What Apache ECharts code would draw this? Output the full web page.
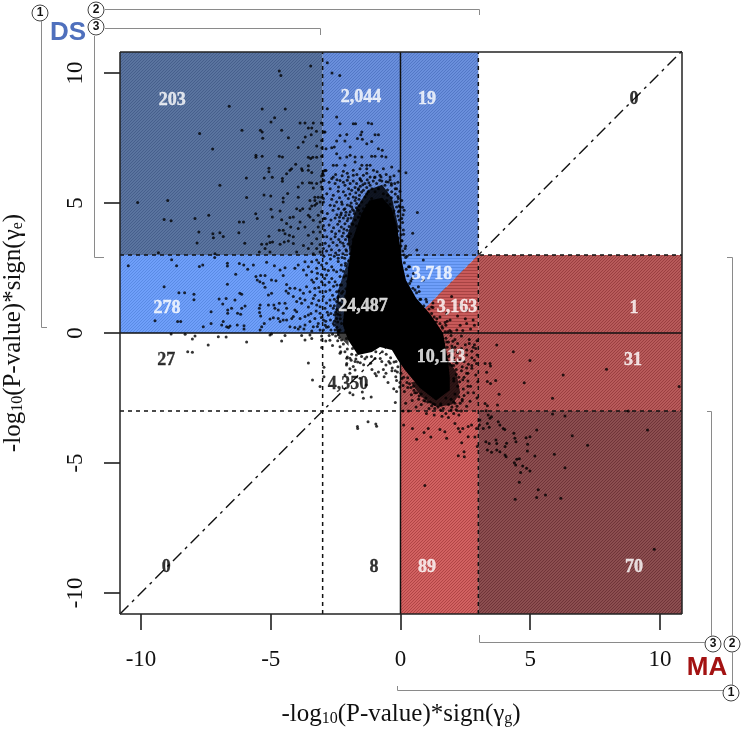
<!DOCTYPE html>
<html><head><meta charset="utf-8">
<style>html,body{margin:0;padding:0;background:#fff}#c{width:742px;height:729px}</style>
<script src="https://cdn.jsdelivr.net/npm/echarts@6/dist/echarts.min.js"></script>
</head><body><div id="c"></div>
<script>
const xMin=-10.81,xMax=10.85,yMin=-10.81,yMax=10.81;
const tickValues=[-10,-5,0,5,10];
const xTitle='{a|-log}{s|10}{a|(P-value)*sign(γ}{s|g}{a|)}';
const yTitle='{a|-log}{s|10}{a|(P-value)*sign(γ}{s|e}{a|)}';
// quadrant counts: [x,y,text,tone]
const countLabels=[[-8.8,8.96,'203','w'],[-1.52,9.08,'2,044','w'],[1.02,9.0,'19','w'],[9.0,9.0,'0','k'],
[-9.0,0.96,'278','w'],[-1.44,1.04,'24,487','w'],[1.21,2.27,'3,718','w'],[2.18,1.0,'3,163','w'],[9.0,0.96,'1','w'],
[-9.03,-1.04,'27','k'],[-2.02,-1.96,'4,350','k'],[1.56,-0.92,'10,113','w'],[8.96,-1.04,'31','w'],
[-9.03,-9.0,'0','k'],[-1.02,-9.0,'8','k'],[1.02,-9.0,'89','w'],[9.0,-9.0,'70','w']];
// shaded zones, corners in data units
const zoneCorners=[
[[xMin,3],[-3,3],[-3,yMax],[xMin,yMax]],
[[-3,3],[3,3],[3,yMax],[-3,yMax]],
[[xMin,0],[0,0],[0,3],[xMin,3]],
[[0,0],[3,3],[0,3]],
[[0,0],[3,0],[3,3]],
[[3,0],[xMax,0],[xMax,3],[3,3]],
[[0,-3],[xMax,-3],[xMax,0],[0,0]],
[[0,yMin],[3,yMin],[3,-3],[0,-3]],
[[3,yMin],[xMax,yMin],[xMax,-3],[3,-3]]];
const zoneTones=['blueDark','blueMid','blueLight','blueWedge','redWedge','redMid','redMid','redBright','redDark'];
// dense solid core outline and hazy fringes of the cloud
const coreOutline=[[-1.5,4.6],[-1.2,5.1],[-0.7,5.2],[-0.35,4.8],[-0.15,4.15],[-0.02,3.38],[0.06,2.73],[0.21,2.04],[0.6,1.35],[1.14,0.73],[1.64,0],[1.83,-1.04],[1.9,-1.7],[1.9,-2.2],[1.37,-2.6],[0.75,-2.12],[0.17,-1.42],[-0.1,-1.04],[-0.33,-0.65],[-0.79,-0.54],[-1.1,-0.73],[-1.64,-0.85],[-2.02,-0.27],[-2.22,0.31],[-2.14,1.27],[-2.02,2.42],[-1.85,3.58]];
const hazeUpper=[[-1.25,5.5],[-0.71,5.7],[-0.33,5.2],[-0.1,4.15],[-0.1,3.19],[-1.95,3.0],[-2.05,3.77],[-1.7,4.8]];
const hazeLower=[[1.83,-1.0],[2.15,-1.5],[2.3,-2.3],[2.0,-2.75],[1.4,-2.85],[0.8,-2.45],[0.4,-1.9],[1.0,-1.8]];
const hazeLeft=[[-1.95,3.0],[-2.4,1.65],[-2.55,0.5],[-2.45,-0.05],[-2.0,-0.5],[-2.0,1.5]];
// scatter points, read by eye, flat x,y pairs
const ptsUpperLeft=[-3.46,10.27,-4.67,10.08,-4.61,9.91,-6.6,8.72,-5.33,8.62,-4.44,8.62,-4.85,8.28,-4.99,8.12,-3.87,8.08,-3.68,8.08,-3.36,8.08,-3.05,8.08,-6.11,7.8,-7.74,7.67,-5.4,7.8,-5.33,7.73,-4.58,7.8,-3.55,7.89,-3.42,7.89,-3.24,7.76,-2.95,7.73,-3.44,7.63,-3.67,7.54,-4.32,7.51,-5.31,7.49,-3.75,7.35,-3.04,7.41,-3.94,7.14,-3.23,7.19,-7.24,7.08,-3.03,7.12,-5.57,6.84,-5.57,6.76,-5.33,6.8,-4.67,6.8,-4.55,6.77,-3.55,6.76,-3.46,6.71,-3.38,6.76,-3.23,6.76,-3.04,6.8,-4.04,6.49,-4.2,6.32,-4.26,6.26,-3.81,6.32,-3.78,6.25,-3.55,6.43,-3.55,6.26,-3.42,6.17,-5.07,6.34,-5.07,6.2,-4.39,6.13,-2.97,6.22,-2.87,6.25,-3.04,6.04,-3.0,6.13,-5.25,5.96,-4.94,5.99,-5.94,5.96,-4.55,5.94,-4.55,5.84,-6.96,5.68,-3.78,5.77,-3.94,5.62,-3.51,5.78,-3.42,5.77,-3.36,5.58,-3.23,5.75,-3.06,5.81,-3.04,5.62,-2.95,5.87,-3.01,5.53,-5.26,5.31,-5.0,5.27,-4.35,5.37,-5.93,5.21,-4.52,5.19,-4.52,5.04,-3.94,5.22,-8.97,5.1,-10.13,5.02,-3.3,5.22,-3.17,5.22,-3.04,5.22,-3.49,5.1,-3.3,5.1,-3.1,5.04,-2.97,5.17,-9.11,4.37,-8.84,4.32,-7.92,4.4,-7.39,4.53,-5.58,4.59,-5.52,4.4,-4.99,4.76,-4.94,4.46,-4.64,4.69,-6.21,4.27,-6.05,4.27,-7.77,3.89,-7.23,3.82,-7.21,3.66,-6.96,3.86,-6.83,3.71,-6.23,3.86,-7.84,3.46,-6.0,3.45,-5.35,3.41,-5.16,3.42,-5.03,3.48,-4.93,3.5,-5.07,3.72,-5.44,3.12,-5.22,3.25,-4.64,3.41,-4.48,3.5,-4.32,3.54,-4.13,3.44,-4.13,3.7,-4.67,3.95,-4.52,3.95,-4.45,3.82,-4.28,3.76,-4.13,4.46,-4.26,4.44,-4.58,4.36,-3.87,4.27,-4.39,4.21,-4.23,4.08,-3.94,4.02,-3.68,4.08,-4.0,4.78,-3.87,4.71,-3.77,4.78,-3.49,4.78,-3.42,4.89,-3.3,4.91,-3.23,4.98,-3.55,4.53,-3.49,4.46,-3.36,4.34,-3.17,4.53,-3.04,4.66,-2.95,4.4,-3.1,4.27,-2.97,4.14,-3.17,4.08,-3.36,3.89,-3.55,3.76,-3.1,3.89,-2.97,3.7,-3.23,3.63,-3.42,3.44,-3.74,3.37,-3.55,3.25,-3.23,3.25,-3.1,3.4,-2.97,3.25,-3.1,3.12,-3.36,3.05,-4.0,3.12,-5.03,3.12,-9.33,3.09,-7.15,3.05];
const ptsMiddleLeft=[-10.49,2.59,-8.82,2.82,-8.63,2.59,-7.75,2.56,-7.62,2.62,-9.11,1.78,-8.54,1.55,-8.32,1.55,-7.96,1.49,-7.96,1.28,-9.46,0.47,-8.59,0.44,-8.47,0.44,-7.6,0.24,-7.3,0.37,-7.3,0.82,-6.99,1.31,-6.72,1.33,-6.38,1.27,-6.85,1.12,-6.51,0.95,-6.66,0.88,-6.66,0.76,-6.67,1.88,-6.67,2.68,-6.67,2.58,-6.35,2.26,-6.21,2.67,-6.04,2.62,-5.89,2.45,-5.67,2.62,-7.16,2.9,-6.19,1.53,-6.12,1.49,-5.99,1.04,-6.12,0.95,-6.28,0.76,-6.16,0.72,-6.83,0.44,-6.89,0.31,-6.7,0.24,-6.57,0.27,-6.63,0.21,-6.29,0.31,-6.03,0.28,-6.03,0.15,-5.57,2.17,-5.52,2.04,-5.42,1.97,-5.39,2.21,-5.22,2.21,-5.29,1.91,-5.22,1.76,-4.97,2.04,-4.8,2.01,-4.52,2.21,-4.64,2.42,-4.45,2.51,-4.86,2.59,-5.16,2.72,-4.39,1.87,-4.41,1.62,-4.32,1.53,-5.41,1.08,-5.44,0.95,-5.43,0.79,-5.39,0.65,-5.09,1.46,-4.97,1.53,-5.09,1.08,-4.88,1.08,-4.84,0.95,-4.67,1.14,-4.71,0.88,-4.45,1.14,-4.39,0.95,-4.52,0.76,-4.9,0.59,-4.71,0.56,-4.52,0.5,-4.39,0.5,-5.25,0.37,-5.35,0.24,-5.41,0.12,-5.03,0.54,-4.64,0.44,-4.19,0.56,-4.07,0.88,-4.0,1.21,-3.87,1.33,-4.13,1.4,-4.26,1.72,-4.07,1.72,-3.87,1.65,-3.74,1.53,-3.68,1.27,-3.81,1.14,-4.0,0.82,-4.13,0.63,-3.87,0.56,-3.68,0.63,-3.55,0.69,-3.42,1.14,-3.23,1.08,-3.1,1.01,-3.36,1.33,-3.49,1.59,-3.3,1.72,-3.1,1.59,-2.97,1.4,-3.62,1.78,-3.42,2.04,-3.23,2.1,-3.04,1.97,-3.62,2.23,-3.42,2.36,-3.23,2.49,-3.74,2.42,-3.94,2.62,-4.07,2.49,-3.68,2.74,-3.42,2.74,-3.23,2.81,-3.04,2.62,-2.85,2.68,-2.65,2.55,-2.85,2.23,-2.65,2.1,-2.91,1.85,-2.72,1.65,-2.72,1.27,-2.91,0.95,-3.1,0.76,-3.3,0.56,-3.49,0.44,-3.68,0.31,-3.87,0.24,-4.07,0.21,-4.26,0.24,-3.36,0.24,-3.17,0.37,-2.97,0.5,-2.78,0.69,-2.59,0.95,-2.78,0.24,-2.97,0.12,-2.59,0.37,-2.46,0.56,-2.46,1.21,-2.46,1.59,-2.52,1.97,-2.46,2.36,-2.33,2.17,-2.27,1.85,-2.27,1.53,-2.2,1.27,-2.23,0.95,-2.33,0.69,-2.27,0.37,-2.33,0.12,-2.52,0.12,-3.1,0.12,-3.42,0.08,-3.72,0.15,-3.94,0.15];
const ptsLowerLeft=[-5.03,-0.08,-4.97,-0.04,-8.84,-0.04,-8.3,-0.05,-8.02,-0.23,-7.92,-0.12,-7.41,-0.46,-7.02,-0.14,-6.72,-0.15,-5.93,-0.35,-4.58,-0.31,-4.45,-0.1,-3.81,-0.1,-3.68,-0.27,-3.49,-0.08,-3.42,-0.21,-3.04,-0.12,-3.04,-0.27,-2.88,-0.31,-3.04,-0.56,-8.2,-0.72,-8.02,-0.74,-3.55,-1.15,-3.39,-1.81,-2.95,-1.32,-2.95,-1.68,-3.1,-2.06,-1.66,-3.6,-2.4,-0.08,-2.27,-0.27,-2.08,-0.21,-2.33,-0.53,-2.14,-0.72,-1.95,-0.97,-1.82,-1.29,-2.08,-1.23,-1.95,-1.55,-1.75,-1.42,-1.56,-1.74,-2.14,-1.62,-2.33,-0.78,-1.85,-0.6,-1.7,-0.85,-2.07,-1.17,-2.07,-0.97,-1.75,-1.1,-1.95,-1.38,-1.37,-0.99,-1.15,-1.16,-1.55,-1.14,-1.1,-1.4,-0.85,-1.5,-0.93,-1.64,-0.98,-1.56,-0.98,-0.98,-0.72,-1.1,-0.56,-1.23,-0.66,-1.4,-0.4,-1.16,-0.56,-1.55,-0.63,-1.68,-0.17,-1.1,-0.33,-1.45,-0.2,-1.45,-0.15,-1.83,-0.48,-1.9,-0.15,-2.25,-0.2,-2.67,-1.95,-2.3,-1.83,-2.38,-1.47,-2.27,-1.13,-2.46,-1.25,-3.41,-0.92,-3.59,-0.26,-2.14,-0.95,-3.5,-1.65,-3.67,-0.03,-2.08,-1.32,-2.0,-1.43,-2.51];
const ptsPlumeFar=[-2.82,10.4,-2.64,10.0,-2.34,9.91,-2.82,8.63,-2.46,8.31,-2.33,8.05,-1.82,8.05,-1.73,8.05,-1.24,8.08,-1.11,8.05,-2.91,7.73,-2.33,7.6,-2.07,7.64,-1.49,7.73,-1.53,7.63,-0.98,7.63,-0.85,7.63,-2.46,7.39,-2.14,7.39,-1.66,7.48,-1.47,7.45,-1.11,7.37,-1.3,7.28,-2.87,7.09,-2.65,7.13,-2.55,7.16,-1.94,7.16,-0.85,7.09,-0.7,7.03,-2.46,6.9,-2.33,6.73,-2.07,6.77,-1.94,6.84,-1.75,6.77,-1.49,6.77,-1.11,6.8,-0.98,6.8,-0.72,6.8,-0.56,6.77,-1.75,6.58,-2.59,6.45,-2.46,6.45,-2.14,6.45,-1.49,6.45,-1.3,6.45,-1.17,6.45,-1.3,6.32,-2.91,6.26,-2.97,6.07,-2.59,6.0,-2.2,6.22,-1.82,6.26,-1.56,6.32,-1.04,6.26,-0.66,6.32,-0.34,6.39,-0.06,6.23,0.21,6.16,0.65,4.64,0.08,4.84,0.47,3.84,0.11,3.96];
const ptsPlumeMid=[-2.65,5.94,-2.52,5.75,-2.33,5.87,-2.01,6.0,-1.82,6.07,-1.56,5.94,-1.43,6.07,-1.17,6.0,-0.98,6.0,-0.79,6.07,-0.4,6.0,-0.47,5.81,-0.6,5.68,-0.15,5.55,-2.71,5.55,-2.39,5.62,-2.14,5.68,-1.94,5.75,-1.69,5.75,-1.37,5.75,-1.17,5.68,-0.92,5.75,-2.84,5.36,-2.59,5.3,-2.2,5.43,-1.88,5.49,-1.62,5.55,-1.43,5.49,-1.24,5.43,-0.98,5.43,-0.66,5.36,-0.34,5.43,-0.08,5.17,-2.46,5.04,-2.27,5.04,-2.01,5.17,-1.82,5.23,-1.58,5.3,-1.37,5.23,-1.11,5.17,-0.85,5.1,-0.53,5.1,-0.21,5.04,-0.02,4.85,0.14,4.72,-2.97,5.04,-2.71,4.91,-2.39,4.78,-2.14,4.78,-1.88,4.85,-1.69,4.98,-1.49,5.04,-1.3,4.91,-1.04,4.85,-0.72,4.78,-0.4,4.78,-0.08,4.66,-1.94,4.66,-1.62,4.72,-1.43,4.78,-1.17,4.66,
-2.82,4.6,-2.6,4.72,-2.45,4.55,-2.28,4.62,-2.12,4.52,-1.98,4.55,-1.78,4.6,-1.55,4.6,-1.28,4.55,-1.05,4.5,-0.88,4.62,-0.62,4.6,-0.45,4.55,-0.28,4.62,-0.1,4.5,-2.9,4.4,-2.68,4.35,-2.52,4.42,-2.35,4.3,-2.2,4.42,-2.05,4.32,-1.9,4.42,-1.74,4.35,-1.62,4.45,-1.42,4.38,-1.18,4.4,-0.96,4.35,-0.76,4.42,-0.55,4.35,-0.3,4.32,-0.05,4.35,-2.75,4.15,-2.58,4.05,-2.42,4.18,-2.28,4.08,-2.14,4.2,-1.98,4.1,-1.84,4.18,-1.7,4.12,-1.58,4.2,-1.22,4.2,-0.9,4.15,-0.65,4.2,-0.48,4.12,-0.25,4.18,-0.05,4.1,0.08,4.25,-2.92,3.95,-2.65,3.9,-2.5,3.82,-2.36,3.92,-2.2,3.85,-2.06,3.95,-1.92,3.82,-0.42,3.95,-0.3,3.88,-0.1,3.92,0.02,3.78,-2.84,3.7,-2.68,3.62,-2.52,3.7,-2.38,3.6,-2.25,3.72,-2.12,3.6,-1.98,3.7,-1.82,3.6,-1.68,3.55,-0.08,3.65,0.04,3.55,-2.9,3.45,-2.75,3.35,-2.6,3.48,-2.45,3.38,-2.32,3.5,-2.18,3.35,-2.02,3.42,-1.88,3.32,-1.74,3.42,-1.62,3.3,0.02,3.35,0.09,3.15,-2.85,3.15,-2.66,3.2,-2.5,3.08,-2.36,3.18,-2.22,3.05,-2.08,3.15,-1.94,3.05,-1.82,3.15,-1.7,3.05,-1.58,3.0,-2.15,2.88,-2.0,2.78,-1.88,2.88,-1.78,2.72,-2.4,2.75,-2.28,2.62,-2.12,2.6,-1.98,2.5,-1.85,2.42,-2.2,2.38,-2.1,2.2,-1.95,2.22,-1.85,2.05,-2.05,1.98,-1.95,1.8,-2.1,1.7,-1.95,1.55,-2.12,1.42,-2.0,1.25,-2.1,1.05,-1.95,0.95,-2.08,0.75,-1.98,0.55,-2.15,0.5,-2.0,0.2,-2.12,0.05,-1.98,-0.1];
const ptsFringe=[-2.95,2.95,-2.7,2.85,-2.55,2.95,-2.4,2.88,-2.92,2.45,-2.78,2.4,-2.58,2.42,-2.92,2.1,-2.75,1.95,-2.58,1.8,-2.45,1.85,-2.38,1.62,-2.88,1.6,-2.62,1.45,-2.55,1.3,-2.4,1.4,-2.35,1.15,-2.85,1.15,-2.7,1.05,-2.55,1.05,-2.45,0.9,-2.35,0.85,-2.82,0.8,-2.68,0.75,-2.55,0.7,-2.42,0.72,-2.88,0.45,-2.7,0.5,-2.55,0.45,-2.42,0.42,-2.85,0.22,-2.68,0.12,-2.45,0.22,-2.38,0.05,-2.62,-0.05,-2.5,-0.12,-2.35,-0.18,-2.75,-0.1,-2.9,0.3,-3.2,2.3,-3.35,1.95,-3.15,1.75,-3.3,1.45,-3.15,1.25,-3.25,0.85,-3.45,0.75,-3.05,0.6,-3.2,0.25,-3.55,1.0,-3.05,2.25,-3.15,2.7,-3.55,2.55,
-2.5,6.1,-2.25,6.05,-2.05,6.15,-1.68,6.1,-1.3,6.15,-0.9,6.2,-0.55,6.1,-0.25,6.05,-2.75,5.8,-2.45,5.9,-2.2,5.8,-2.05,5.88,-1.82,5.85,-1.5,5.85,-1.28,5.9,-1.05,5.85,-0.72,5.85,-0.35,5.75,-0.1,5.8,-2.4,5.45,-2.0,5.55,-1.75,5.6,-1.55,5.65,-1.3,5.6,-1.1,5.55,-0.85,5.55,-0.5,5.5,-0.2,5.35,-2.65,5.15,-2.35,5.2,-2.12,5.3,-1.95,5.35,-1.72,5.4,-1.5,5.42,-1.3,5.35,-0.5,5.3,-0.35,5.2,-0.12,5.05,-2.55,4.9,-2.25,4.95,-2.05,4.92,-1.9,5.0,-1.75,5.1,-1.6,5.15,-0.4,4.95,-0.15,4.85,-0.25,4.7,-2.35,4.45,-2.1,4.65,-1.85,4.75,-1.7,4.82,-1.6,4.9,-0.05,4.7,
0.55,-0.25,0.8,-2.75,1.05,-2.65,1.2,-2.8,1.45,-2.85,1.65,-2.9,1.85,-2.75,2.05,-2.65,2.3,-2.7,2.45,-2.4,2.6,-2.05,2.45,-1.7,2.6,-1.85,2.35,-1.45,2.15,-1.4,2.05,-1.25,2.3,-1.05,2.05,-0.95,1.95,-0.7,2.4,-0.75,2.1,-0.55,2.35,-0.6,2.55,-0.65,2.65,-0.4,2.85,-0.45,2.1,-0.25,1.75,-0.2,1.95,0.05,2.4,0.1,2.7,0.15,2.85,0.3,1.8,0.45,1.4,0.55,0.95,0.85,1.6,0.25,1.2,1.0,2.2,0.65,2.5,0.55,2.6,-1.55,2.75,-1.25,2.85,-1.05,2.55,-1.35,2.95,-0.85,2.8,-0.55];
// points hugging the edge of the dense core
const ptsCoreEdge=[-1.95,4.9,-1.8,4.7,-2.02,4.4,-1.88,4.2,-2.18,4.0,-2.05,3.72,-2.22,3.45,-2.1,3.2,-2.25,2.9,-2.12,2.68,-2.3,2.42,-2.18,2.15,-2.32,1.85,-2.22,1.6,-2.42,1.35,-2.28,1.1,-2.5,0.8,-2.32,0.55,-2.55,0.3,-2.4,0.1,-2.42,-0.3,-2.2,-0.42,-2.05,-0.62,-1.88,-0.82,-1.72,-1.0,-1.5,-0.9,-1.3,-0.92,-1.12,-0.9,-0.95,-0.72,-0.7,-0.72,-0.55,-0.82,-0.38,-0.95,-0.25,-1.12,-0.1,-1.3,0.02,-1.55,0.12,-1.7,0.28,-1.72,0.35,-1.95,0.5,-2.05,0.62,-2.3,0.8,-2.35,0.98,-2.5,1.15,-2.65,1.32,-2.75,1.55,-2.72,1.75,-2.5,1.95,-2.55,2.1,-2.35,2.2,-2.05,2.05,-1.75,2.15,-1.6,1.98,-1.25,2.05,-1.1,1.92,-0.85,1.98,-0.5,1.78,-0.35,1.72,0.05,1.62,0.18,1.38,0.42,1.3,0.62,1.1,0.92,0.9,1.05,0.78,1.3,0.62,1.55,0.48,1.72,0.4,2.0,0.28,2.2,0.22,2.45,0.15,2.7,0.14,3.0,0.18,3.25,0.06,3.55,0.12,3.8,-0.02,4.05,0.05,4.4,-0.05,4.9,-0.1,5.25,-0.2,5.55,-0.35,5.68,-0.55,5.82,-0.8,5.88,-1.0,5.98,-1.22,5.78,-1.45,5.7,-1.62,5.5,-1.72,5.2,-2.18,4.75,-2.3,4.55,-1.55,5.9,-0.75,6.0,-0.4,5.9,-0.22,5.75,-0.02,5.45,0.05,5.1,0.1,4.55,0.2,3.35,0.25,2.95,0.35,2.55,0.45,2.1,0.72,1.6,0.98,1.3,1.25,0.98,1.52,0.62,1.72,0.4,1.82,0.05,2.02,-0.32,2.02,-0.7,2.18,-1.15,2.28,-1.88,2.42,-2.15,2.38,-2.62,2.18,-2.82,1.98,-2.85,1.55,-2.78,1.25,-2.72,0.95,-2.62,0.72,-2.42,0.52,-2.2,0.42,-2.38,0.28,-2.1,0.1,-2.02,-0.02,-1.9,-0.18,-1.68,-0.32,-1.35,-0.12,-1.5,-0.45,-1.1,-0.78,-0.98,-1.42,-1.22,-1.65,-1.12,-1.9,-1.05,-2.05,-0.92,-2.3,-0.72,-2.62,-0.48,-2.72,-0.28];
const ptsWedgeRight=[0.56,1.65,0.69,1.78,0.5,2.29,0.31,2.55,0.88,2.04,1.01,1.2,1.2,0.75,1.78,0.75,1.97,1.4,2.3,1.08,1.52,0.37,2.17,0.12,2.55,0.37,1.91,0.5,2.8,0.5,2.55,0.88,0.63,3.19,0.88,2.81,0.2,2.9,0.35,1.9,0.75,1.3,1.25,1.15,1.0,0.3,1.9,0.1,2.3,0.3,1.75,0.3,1.3,0.4];
const ptsLowerRight=[3.71,-0.46,4.35,-0.72,4.99,-1.06,6.27,-1.62,7.94,-1.39,10.74,-2.06,4.77,-1.91,5.86,-2.51,3.8,-2.36,3.74,-2.77,3.26,-1.17,3.45,-1.17,3.47,-1.27,3.32,-1.51,3.35,-1.87,3.47,-1.94,3.67,-1.83,3.26,-2.71,3.35,-2.8,3.3,-2.99,3.38,-3.15,3.45,-3.28,3.35,-3.48,3.51,-3.22,3.06,-3.35,3.04,-3.54,3.19,-3.67,3.42,-3.63,3.77,-3.41,3.83,-3.54,3.96,-3.67,4.02,-3.71,4.37,-3.86,4.41,-4.05,4.45,-4.18,4.09,-4.24,4.03,-4.37,3.83,-4.57,3.68,-4.12,3.71,-4.25,3.71,-4.5,3.51,-4.59,3.35,-4.5,3.29,-4.18,3.42,-4.25,4.03,-4.69,4.07,-4.76,4.84,-4.03,4.99,-3.99,4.9,-4.28,4.89,-4.54,5.25,-3.73,5.18,-4.73,5.93,-4.66,6.34,-5.18,6.62,-3.95,7.21,-4.32,5.86,-3.12,6.34,-3.19,8.78,-3.0,9.52,-3.73,4.39,-4.99,4.48,-4.86,4.58,-4.84,4.44,-5.08,4.71,-5.12,4.86,-5.2,4.99,-5.31,4.63,-5.37,4.58,-5.74,5.31,-6.03,5.59,-6.23,5.25,-6.33,4.42,-6.4,6.18,-6.36,9.78,-8.32,0.94,-5.87,2.23,-4.72,2.45,-4.57,2.46,-4.76,2.36,-4.22,1.78,-4.05,1.71,-3.8,1.52,-3.71,1.07,-3.67,0.91,-3.83,1.17,-4.0,0.62,-4.09,0.46,-3.67,0.12,-3.54,2.29,-3.8,2.4,-3.67,2.61,-3.6,2.74,-3.54,2.93,-3.67,2.87,-4.0,2.96,-4.37,2.61,-3.99,2.1,-3.48,2.23,-3.67,
2.93,-1.17,2.75,-1.36,2.9,-1.62,2.98,-1.88,2.7,-2.05,2.82,-2.3,2.95,-2.5,2.68,-2.63,2.55,-2.82,2.4,-1.8,2.55,-1.55,2.6,-2.3,2.38,-2.55,2.35,-3.0,2.15,-2.95,1.95,-2.96,1.75,-3.1,1.55,-2.97,1.32,-2.9,1.1,-2.9,0.9,-2.6,0.7,-2.55,0.55,-2.3,0.4,-2.1,0.25,-1.9,0.15,-2.25,0.05,-1.75,0.45,-2.6,0.2,-2.7,0.6,-2.85,0.3,-3.0,0.1,-3.0,1.0,-3.1,1.3,-3.15,1.6,-3.2,1.85,-3.25,2.05,-3.1,2.25,-3.15,2.1,-2.7,2.25,-2.45,2.05,-1.85,2.25,-1.7,2.38,-1.3,2.15,-1.15,1.9,-1.2,1.85,-0.9,2.2,-0.75,2.55,-0.85,2.75,-0.7,2.9,-0.6,2.5,-0.45,2.2,-0.4,1.85,-0.35,2.95,-0.3,2.65,-0.25,2.35,-0.12,1.95,-0.1,2.75,-0.95,2.45,-1.1,2.62,-1.2,1.8,-0.55,2.0,-0.6];
function pairs(a){const r=[];for(let i=0;i+1<a.length;i+=2)r.push([a[i],a[i+1]]);return r;}
const allPoints=[ptsUpperLeft,ptsMiddleLeft,ptsLowerLeft,ptsPlumeFar,ptsPlumeMid,ptsFringe,ptsCoreEdge,ptsWedgeRight,ptsLowerRight].flatMap(pairs);
// reference lines: x1,y1,x2,y2
const dashedLines=[[-3,yMin,-3,yMax],[3,yMin,3,yMax],[xMin,3,xMax,3],[xMin,-3,xMax,-3]];
const solidLines=[[0,yMin,0,yMax],[xMin,0,xMax,0]];
const frameLines=[[xMin,yMin,xMax,yMin],[xMin,yMax,xMax,yMax],[xMin,yMin,xMin,yMax],[xMax,yMin,xMax,yMax]];
const diagonalLine=[[xMin,xMin,xMax,xMax]];

function hatch(bg,fg,kind){const c=document.createElement('canvas');c.width=3;c.height=3;const g=c.getContext('2d');g.fillStyle=bg;g.fillRect(0,0,3,3);g.fillStyle=fg;
 if(kind==='h'){g.fillRect(0,0,3,1);}else{for(let i=0;i<3;i++)g.fillRect(i,2-i,1,1);}return {image:c,repeat:'repeat'};}
const tones={blueDark:hatch('#5a749f','#465f8c','d'),blueMid:hatch('#6a8fdc','#5378c6','d'),blueLight:hatch('#6f9ffa','#5a8be4','d'),blueWedge:hatch('#6f9ffa','#5a8be4','h'),redWedge:hatch('#c85a5a','#a74343','h'),redMid:hatch('#b85a5a','#9a3f40','d'),redBright:hatch('#d26161','#b04545','d'),redDark:hatch('#8c4e50','#6f3438','d')};

function polySeries(list,z,styleOf){return {type:'custom',coordinateSystem:'cartesian2d',z,silent:true,animation:false,clip:true,data:list.map((_,i)=>[i,0]),
 encode:{x:0,y:1},renderItem:(p,api)=>({type:'polygon',shape:{points:list[p.dataIndex].map(q=>api.coord(q))},style:styleOf(p.dataIndex)})};}
function lineSeries(list,z,style){return {type:'custom',coordinateSystem:'cartesian2d',z,silent:true,animation:false,clip:false,data:list.map((_,i)=>[i,0]),
 encode:{x:0,y:1},renderItem:(p,api)=>{const l=list[p.dataIndex],a=api.coord([l[0],l[1]]),b=api.coord([l[2],l[3]]);return {type:'line',shape:{x1:a[0],y1:a[1],x2:b[0],y2:b[1]},style};}};}

const gray='#8a8a8a';
function seg(pts){return {type:'polyline',shape:{points:pts},style:{stroke:gray,fill:null,lineWidth:1},z:20};}
function badge(x,y,t){return {type:'group',z:21,children:[{type:'circle',shape:{cx:x,cy:y,r:8},style:{fill:'#fff',stroke:'#444',lineWidth:1}},
 {type:'text',x:x,y:y,style:{text:t,font:'bold 12px "Liberation Sans"',fill:'#111',align:'center',verticalAlign:'middle'}}]};}

const chart=echarts.init(document.getElementById('c'));
const baseAxis=(min,max)=>({type:'value',min,max,splitLine:{show:false},
 axisLine:{show:false,onZero:false},axisTick:{show:true,length:16,inside:false,customValues:tickValues,lineStyle:{color:'#111',width:1.5}},
 nameLocation:'middle',nameTextStyle:{rich:{a:{fontFamily:'Liberation Serif',fontSize:25,color:'#111'},s:{fontFamily:'Liberation Serif',fontSize:16,color:'#111',verticalAlign:'bottom',padding:[8,0,0,0]}}}});
const tickLabel={customValues:tickValues,fontFamily:'Liberation Serif',fontSize:23,color:'#111',hideOverlap:false};
const countLabelStyle={show:true,position:'inside',fontFamily:'Liberation Serif',fontWeight:'bold',fontSize:18,formatter:p=>p.value[2]};
chart.setOption({animation:false,backgroundColor:'#fff',
 grid:{left:120,right:60,top:52,bottom:115,containLabel:false,outerBoundsMode:'none'},
 xAxis:Object.assign(baseAxis(xMin,xMax),{name:xTitle,nameGap:88,axisLabel:Object.assign({margin:34},tickLabel)}),
 yAxis:Object.assign(baseAxis(yMin,yMax),{name:yTitle,nameGap:94,axisLabel:Object.assign({rotate:90,margin:33},tickLabel)}),
 graphic:{elements:[
  seg([[41.5,21],[41.5,327.5],[47,327.5]]),
  seg([[105,9.5],[479.5,9.5],[479.5,15]]),
  seg([[105,28.5],[320.5,28.5],[320.5,35]]),
  seg([[94.5,36],[94.5,257.5],[104,257.5]]),
  seg([[705,642.5],[479.5,642.5],[479.5,635]]),
  seg([[711.5,636],[711.5,411.5],[707,411.5]]),
  seg([[732.5,636],[732.5,257.5],[727,257.5]]),
  seg([[732.5,652],[732.5,685]]),
  seg([[723,690.5],[397.5,690.5],[397.5,686]]),
  badge(40,13,'1'),badge(96,10,'2'),badge(96,27,'3'),
  badge(713,644,'3'),badge(732,644,'2'),badge(731,693,'1'),
  {type:'text',x:68,y:33,z:21,style:{text:'DS',font:'bold 26px "Liberation Sans"',fill:'#4f70bd',align:'center',verticalAlign:'middle'}},
  {type:'text',x:707,y:668,z:21,style:{text:'MA',font:'bold 26px "Liberation Sans"',fill:'#a31212',align:'center',verticalAlign:'middle'}}
 ]},
 series:[
  lineSeries(diagonalLine,1,{stroke:'#111',lineWidth:1.4,lineDash:[12,5,3,5]}),
  polySeries(zoneCorners,2,i=>({fill:tones[zoneTones[i]]})),
  lineSeries(dashedLines,3,{stroke:'#111',lineWidth:1.5,lineDash:[4,4]}),
  lineSeries(solidLines,3,{stroke:'#111',lineWidth:1.5}),
  lineSeries(frameLines,3,{stroke:'#222',lineWidth:1.5}),
  polySeries([hazeUpper],4,()=>({fill:'rgba(0,0,0,0.85)'})),
  polySeries([hazeLower,hazeLeft],4,()=>({fill:'rgba(0,0,0,0.75)'})),
  polySeries([coreOutline],5,()=>({fill:'#000'})),
  {type:'scatter',z:6,silent:true,animation:false,symbol:'circle',symbolSize:3,itemStyle:{color:'#000'},data:allPoints,large:false},
  {type:'scatter',z:7,silent:true,animation:false,symbolSize:0,data:countLabels.filter(d=>d[3]==='w').map(d=>d.slice(0,3)),
   label:Object.assign({color:'#fff',textBorderColor:'#fff',textBorderWidth:0.4},countLabelStyle)},
  {type:'scatter',z:8,silent:true,animation:false,symbolSize:0,data:countLabels.filter(d=>d[3]==='k').map(d=>d.slice(0,3)),
   label:Object.assign({color:'#000',textBorderColor:'#000',textBorderWidth:0.3},countLabelStyle)}
 ]});
</script></body></html>
